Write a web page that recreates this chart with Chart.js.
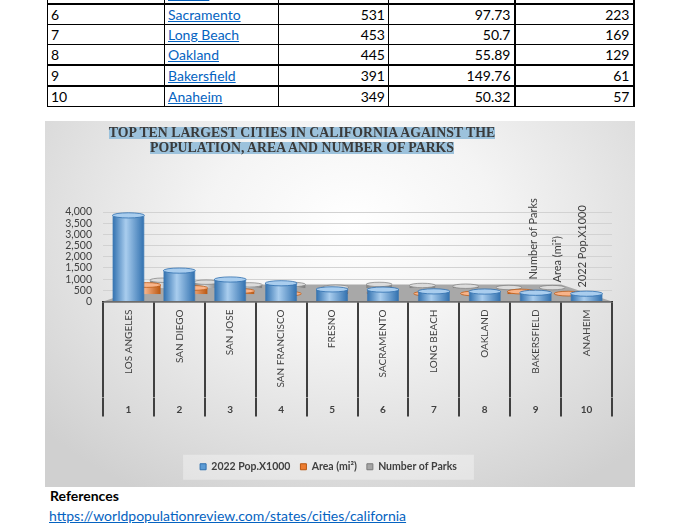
<!DOCTYPE html>
<html>
<head>
<meta charset="utf-8">
<script src="https://cdn.jsdelivr.net/npm/chart.js@4.4.1/dist/chart.umd.min.js"></script>
<style>
  html, body { margin: 0; padding: 0; background: #fff; }
  body { width: 700px; height: 525px; position: relative; overflow: hidden; font-family: Lato, 'Liberation Sans', sans-serif; }
  #tbl { position: absolute; left: 47px; top: -17px; border-collapse: collapse; font-size: 14px; color: #000; table-layout: fixed; }
  #tbl td { border: 1px solid #000; height: 19px; padding: 0 3px; line-height: 17px; white-space: nowrap; }
  #tbl td.num { text-align: right; }
  #tbl td.thickR { border-right: 2px solid #000; }
  #tbl tr.thickT td { border-top: 2px solid #000; }
  #tbl a { color: #0563c1; text-decoration: underline; }
  #box { position: absolute; left: 45px; top: 121px; width: 590px; height: 366px;
         background: radial-gradient(ellipse 70% 85% at 52% 28%, #ffffff 0%, #f4f4f4 35%, #d0d0d0 100%); }
  #title { position: absolute; left: 0; top: 4px; width: 514px; text-align: center; z-index: 2;
           font: bold 13.8px 'Liberation Serif', serif; line-height: 15px; color: #3a3a3a; }
  #title span { background-image: linear-gradient(#9cc2dc, #9cc2dc); background-size: 100% 12px;
                background-position: 0 55%; background-repeat: no-repeat; }
  #chart { position: absolute; left: 0; top: 0; }
  #refs { position: absolute; left: 50px; top: 487px; font-weight: bold; font-size: 14px; line-height: 18px; }
  #link { position: absolute; left: 49px; top: 507px; font-size: 14px; line-height: 18px; color: #0563c1; }
</style>
</head>
<body>
<table id="tbl"></table>
<div id="box">
  <div id="title"><span>TOP TEN LARGEST CITIES IN CALIFORNIA AGAINST THE</span><br><span>POPULATION, AREA AND NUMBER OF PARKS</span></div>
  <canvas id="chart" width="590" height="366"></canvas>
</div>
<div id="refs">References</div>
<a id="link" href="https://worldpopulationreview.com/states/cities/california">https://worldpopulationreview.com/states/cities/california</a>
<script>
const cities = ['Los Angeles', 'San Diego', 'San Jose', 'San Francisco', 'Fresno', 'Sacramento', 'Long Beach', 'Oakland', 'Bakersfield', 'Anaheim'];
const ranks = ['1', '2', '3', '4', '5', '6', '7', '8', '9', '10'];
const population = [3849, 1381, 983, 815, 542, 531, 453, 445, 391, 349];
const area = [469, 325, 178, 47, 115, 97.73, 50.7, 55.89, 149.76, 50.32];
const parks = [444, 340, 200, 220, 80, 223, 169, 129, 61, 57];
const seriesNames = ['2022 Pop.X1000', 'Area (mi\u00b2)', 'Number of Parks'];
const yTicks = [0, 500, 1000, 1500, 2000, 2500, 3000, 3500, 4000];

// dark edge, highlight, base
const shades = [
  ['#2f6fae', '#a9cdee', '#5b9bd5'],
  ['#b9560f', '#f8b48a', '#ed7d31'],
  ['#7a7a7a', '#dcdcdc', '#a5a5a5']
];
const barPct = [0.63, 0.6, 0.6];
const depthScale = [1, 0.92, 0.85];

// table rows 5..10 (top row is cut by the page edge)
const tbl = document.getElementById('tbl');
const widths = [117, 114, 110, 126, 119];
tbl.innerHTML = '<colgroup>' + widths.map(w => `<col style="width:${w}px">`).join('') + '</colgroup>' +
  cities.slice(4).map((c, k) => {
    const i = k + 4;
    const cls = (i === 5 || i === 8 || i === 9) ? ' class="thickT"' : '';
    return `<tr${cls}><td>${ranks[i]}</td><td><a href="#">${c}</a></td>` +
      `<td class="num">${population[i]}</td><td class="num thickR">${area[i]}</td><td class="num thickR">${parks[i]}</td></tr>`;
  }).join('');

function cylinder(i) {
  return (ctx) => {
    const chart = ctx.chart;
    const xs = chart.scales.x;
    if (!chart.chartArea || !xs || ctx.type !== 'data') return shades[i][2];
    const w = (xs.width / cities.length) * barPct[i];
    const xc = xs.getPixelForValue(ctx.dataIndex);
    const g = chart.ctx.createLinearGradient(xc - w / 2, 0, xc + w / 2, 0);
    g.addColorStop(0, shades[i][0]);
    g.addColorStop(0.42, shades[i][1]);
    g.addColorStop(1, shades[i][0]);
    return g;
  };
}

function vanish(chart) {
  const a = chart.chartArea;
  return { vx: (a.left + a.right) / 2, vy: a.top + 4 };
}

// pseudo 3D: floor, depth rows, cylinder caps, series names on the depth axis
const depthPlugin = {
  id: 'depth',
  beforeDraw(chart) {
    const lg = chart.legend;
    if (!lg || !lg.legendHitBoxes.length) return;
    const hb = lg.legendHitBoxes;
    const x0 = Math.min(...hb.map(b => b.left)) - 17;
    const x1 = Math.max(...hb.map(b => b.left + b.width)) + 17;
    const yc = hb[0].top + hb[0].height / 2;
    chart.ctx.save();
    chart.ctx.fillStyle = 'rgba(255,255,255,0.35)';
    chart.ctx.fillRect(x0, yc - 12, x1 - x0, 25);
    chart.ctx.restore();
  },
  beforeDatasetsDraw(chart) {
    const { ctx, chartArea: a } = chart;
    const { vx, vy } = vanish(chart);
    const s = 0.8;
    const bx = x => vx + s * (x - vx);
    const by = vy + s * (a.bottom - vy);
    ctx.save();
    ctx.beginPath();
    ctx.moveTo(a.left, a.bottom);
    ctx.lineTo(a.right, a.bottom);
    ctx.lineTo(bx(a.right), by);
    ctx.lineTo(bx(a.left), by);
    ctx.closePath();
    ctx.fillStyle = '#a8a8a8';
    ctx.fill();
    ctx.restore();
  },
  beforeDatasetDraw(chart, args) {
    const ctx = chart.ctx;
    const s = depthScale[args.index];
    const { vx, vy } = vanish(chart);
    ctx.save();
    if (s !== 1) {
      ctx.translate(vx, vy);
      ctx.scale(s, s);
      ctx.translate(-vx, -vy);
    }
  },
  afterDatasetDraw(chart, args) {
    const ctx = chart.ctx;
    const i = args.index;
    args.meta.data.forEach(bar => {
      ctx.beginPath();
      ctx.ellipse(bar.x, bar.y, bar.width / 2, 2.6, 0, 0, Math.PI * 2);
      ctx.fillStyle = shades[i][1];
      ctx.fill();
      ctx.lineWidth = 0.8;
      ctx.strokeStyle = shades[i][0];
      ctx.stroke();
    });
    ctx.restore();
  },
  afterDatasetsDraw(chart) {
    const { ctx, chartArea: a } = chart;
    const offX = [-30, -55, -79];
    const offY = [-14, -19, -22];
    ctx.save();
    ctx.font = '11px Lato';
    ctx.fillStyle = '#404040';
    ctx.textAlign = 'left';
    ctx.textBaseline = 'middle';
    seriesNames.forEach((n, i) => {
      ctx.save();
      ctx.translate(a.right + offX[i], a.bottom + offY[i]);
      ctx.rotate(-Math.PI / 2);
      ctx.fillText(n, 0, 0);
      ctx.restore();
    });
    ctx.restore();
  }
};

Chart.defaults.font.family = 'Lato';
Chart.defaults.color = '#404040';

const values = [population, area, parks];

new Chart(document.getElementById('chart'), {
  type: 'bar',
  data: {
    labels: cities.map(c => c.toUpperCase()),
    datasets: values.map((v, i) => ({
      label: seriesNames[i],
      data: v,
      backgroundColor: cylinder(i),
      borderColor: shades[i][0],
      borderWidth: 0.6,
      barPercentage: barPct[i]
    }))
  },
  options: {
    responsive: false,
    animation: false,
    events: [],
    layout: { padding: { top: 91, right: 23, bottom: 5, left: 0 } },
    datasets: { bar: { grouped: false, categoryPercentage: 1 } },
    plugins: {
      tooltip: { enabled: false },
      title: { display: false },
      legend: {
        position: 'bottom',
        labels: {
          boxWidth: 6,
          boxHeight: 6,
          padding: 10,
          color: '#404040',
          font: { size: 10.5, weight: 'bold' },
          generateLabels(chart) {
            const items = Chart.defaults.plugins.legend.labels.generateLabels(chart);
            items.forEach((it, i) => {
              it.fillStyle = shades[i][2];
              it.strokeStyle = shades[i][0];
              it.lineWidth = 1;
            });
            return items;
          }
        }
      }
    },
    scales: {
      y: {
        min: 0,
        max: 4000,
        afterBuildTicks(s) { s.ticks = yTicks.map(v => ({ value: v })); },
        afterFit(s) { s.width = 58; },
        border: { display: false },
        grid: { color: '#d2d2d2', drawTicks: false },
        ticks: {
          autoSkip: false,
          padding: 11,
          color: '#404040',
          font: { size: 10.5 },
          callback: v => v.toLocaleString('en-US')
        }
      },
      x: {
        position: 'bottom',
        weight: 0,
        offset: true,
        afterFit(s) { s.height = 96; },
        border: { display: true, color: '#303030', width: 1.5 },
        grid: { offset: true, drawOnChartArea: false, drawTicks: true, tickLength: 96, color: '#404040', lineWidth: 2 },
        ticks: { autoSkip: false, minRotation: 90, maxRotation: 90, padding: -88, font: { size: 10 }, color: '#404040' }
      },
      x2: {
        type: 'category',
        labels: ranks,
        position: 'bottom',
        weight: 1,
        offset: true,
        afterFit(s) { s.height = 54; },
        border: { display: false },
        grid: { offset: true, drawOnChartArea: false, drawTicks: true, tickLength: 19, color: '#404040', lineWidth: 2 },
        ticks: { autoSkip: false, maxRotation: 0, padding: -13, font: { size: 10, weight: 'bold' }, color: '#404040' }
      }
    }
  },
  plugins: [depthPlugin]
});
</script>
</body>
</html>
